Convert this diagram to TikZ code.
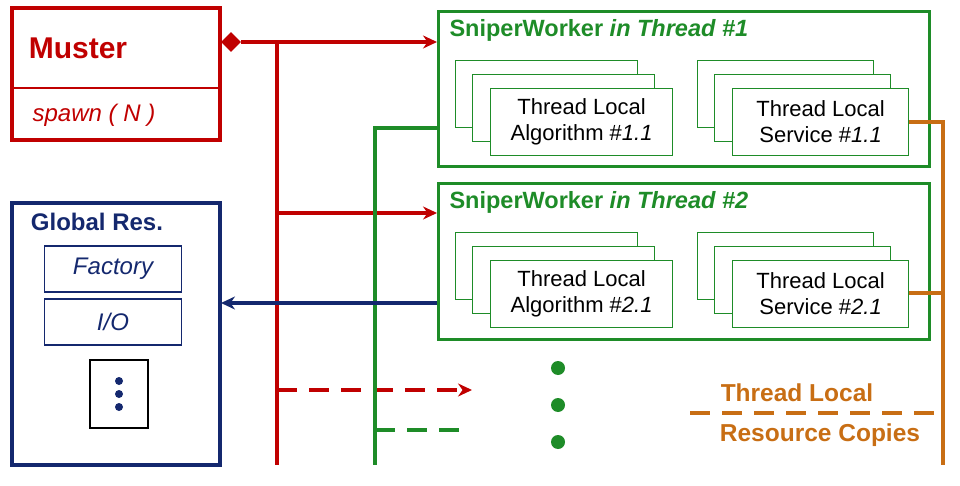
\documentclass[tikz,border=0pt]{standalone}
\usepackage{fontspec}
\setmainfont{Liberation Sans}
\usetikzlibrary{arrows.meta,shapes.geometric}
\definecolor{cr}{RGB}{192,0,0}
\definecolor{cg}{RGB}{30,140,40}
\definecolor{cb}{RGB}{20,40,110}
\definecolor{co}{RGB}{200,110,20}
\begin{document}
\begin{tikzpicture}[x=1pt,y=-1pt,
  card/.style={draw=cg,fill=white,line width=1.2pt,minimum width=182pt,minimum height=67pt,anchor=north west,align=center,font=\fontsize{22}{26}\selectfont},
  blank/.style={card},
  ln/.style={line width=3.2pt},
  arr/.style={ln,-{Stealth[length=14pt,width=13pt]}}]
\useasboundingbox (0,0) rectangle (960,486);
% Muster
\draw[cr,line width=3.2pt] (12,8) rectangle (220,140);
\draw[cr,line width=2pt] (12,88) -- (220,88);
\node[cr,font=\fontsize{30}{34}\selectfont\bfseries] (mu) at (78,48) {Muster};
\node[cr,font=\fontsize{24}{28}\selectfont\itshape] (sp) at (94,115) {spawn ( N )};
\node[diamond,fill=cr,inner sep=0pt,minimum width=20pt,minimum height=20pt] (dia) at (231,42) {};
% Global res
\draw[cb,line width=3.2pt] (12,203) rectangle (220,465);
\node[cb,font=\fontsize{24}{28}\selectfont\bfseries] (gr) at (97,222) {Global Res.};
\node[draw=cb,line width=1.2pt,minimum width=137pt,minimum height=46pt,cb,font=\fontsize{24}{28}\selectfont\itshape] (fa) at (113,269) {Factory};
\node[draw=cb,line width=1.2pt,minimum width=137pt,minimum height=46pt,cb,font=\fontsize{24}{28}\selectfont\itshape] (io) at (113,322) {I/O};
\node[draw=black,line width=1.2pt,minimum width=58pt,minimum height=68pt] (db) at (119,394) {};
\foreach \y in {381,394,407} \fill[cb] (119,\y) circle (4pt);
% workers
\node[draw=cg,line width=3.2pt,minimum width=491pt,minimum height=155pt,anchor=north west] (w1) at (437,10) {};
\node[draw=cg,line width=3.2pt,minimum width=491pt,minimum height=156pt,anchor=north west] (w2) at (437,182) {};
\node[cg,anchor=west,font=\fontsize{23.5}{27}\selectfont\bfseries] (t1) at (446,30) {SniperWorker \textit{in Thread \#1}};
\node[cg,anchor=west,font=\fontsize{23.5}{27}\selectfont\bfseries] (t2) at (446,202) {SniperWorker \textit{in Thread \#2}};
\foreach \yy/\n in {0/1,172/2}{
  \node[blank] at (455,60+\yy) {};
  \node[blank] at (472,74+\yy) {};
  \node[card] (a\n) at (490,88+\yy) {Thread Local\\Algorithm \#\textit{\n.1}};
  \node[blank,minimum width=176pt] at (697,60+\yy) {};
  \node[blank,minimum width=176pt] at (714,74+\yy) {};
  \node[card,minimum width=176pt] (s\n) at (732,88+\yy) {Thread Local\\Service \#\textit{\n.1}};
}
% red connectors
\coordinate (r0) at (277,42);
\coordinate (rb) at (277,465);
\draw[cr,ln] (dia.east) -- (r0) -- (rb);
\draw[cr,arr] (r0) -- (w1.west|-r0);
\coordinate (r2) at (277,213);
\draw[cr,arr] (r2) -- (w2.west|-r2);
\coordinate (r3) at (277,390);
\coordinate (r3e) at (472,390);
\draw[cr,arr,dash pattern=on 20pt off 12pt] (r3) -- (r3e);
% green
\coordinate (g0) at (375,128);
\coordinate (gb) at (375,465);
\draw[cg,ln] (w1.west|-g0) -- (g0) -- (gb);
\coordinate (g3) at (375,430);
\coordinate (g3e) at (468,430);
\draw[cg,ln,dash pattern=on 20pt off 12pt] (g3) -- (g3e);
% blue
\coordinate (b0) at (437,303);
\draw[cb,arr] (b0) -- (221,303);
% dots
\foreach \y in {368,405,442} \fill[cg] (558,\y) circle (7pt);
% orange
\coordinate (o1) at (943,122);
\coordinate (o2) at (943,293);
\coordinate (ob) at (943,465);
\draw[co,ln] (s1.east|-o1) -- (o1) -- (ob);
\draw[co,ln] (s2.east|-o2) -- (o2);
\coordinate (od) at (690,413);
\draw[co,ln,dash pattern=on 20pt off 12pt] (od) -- (943,413);
\node[co,font=\fontsize{24.5}{28}\selectfont\bfseries] (tl) at (797,393) {Thread Local};
\node[co,font=\fontsize{24.5}{28}\selectfont\bfseries] (rc) at (820,435) {Resource Copies};
\end{tikzpicture}
\end{document}
